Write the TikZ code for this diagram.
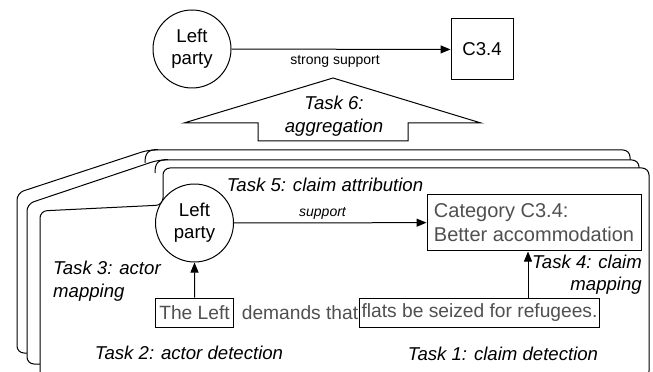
\documentclass[tikz,border=0pt]{standalone}
\usepackage{fontspec}
\setmainfont{Liberation Sans}
\usetikzlibrary{arrows.meta}
\definecolor{textgrey}{HTML}{505050}

\begin{document}
\begin{tikzpicture}[scale=0.3528]
	\tikzstyle{every node}+=[inner sep=0pt]
	\tikzstyle{party}=[circle,draw,line width=1bp,fill=white,minimum size=78bp,align=center,font=\fontsize{18.6bp}{22bp}\selectfont]
	\tikzstyle{task}=[align=center,font=\fontsize{18.6bp}{22.5bp}\selectfont\itshape]
	\tikzstyle{spanbox}=[draw,line width=1bp,minimum height=29bp,text=textgrey,font=\fontsize{19.2bp}{22bp}\selectfont]
	\tikzstyle{rel}=[line width=1bp,-{Triangle[length=10bp,width=8bp]}]
	\tikzstyle{sheet}=[line width=1bp,fill=white,rounded corners=7bp]
	\useasboundingbox (0,0) rectangle (65.3,-37.2);

	% aggregated result
	\node[party] (lpTop) at (19.2,-4.9) {Left\\party};
	\node[draw,line width=1bp,minimum width=62bp,minimum height=61bp,font=\fontsize{18.6bp}{22bp}\selectfont] (cTop) at (48.2,-4.95) {C3.4};
	\draw[rel] (lpTop) -- (cTop);
	\node[font=\fontsize{14bp}{16bp}\selectfont] (strong) at (33.5,-6.15) {strong support};

	% big arrow
	\draw[line width=1bp] (33.3,-7.8) -- (48.1,-12.3) -- (40.8,-12.3) -- (40.8,-14.1) -- (25.8,-14.1) -- (25.8,-12.3) -- (18.4,-12.3) -- cycle;
	\node[task] (agg) at (33.4,-11.6) {Task 6:\\aggregation};

	% stack of documents
	\draw[sheet] (1.7,-35.3) -- (1.7,-19.3) -- (14.8,-15.0) -- (63.0,-15.0) -- (63.0,-35.3) -- cycle;
	\draw[line width=1bp] (15.8,-14.95) .. controls (14.8,-14.95) and (14.5,-15.3) .. (14.5,-16.3);
	\draw[sheet] (2.7,-36.4) -- (2.7,-20.4) -- (15.8,-16.0) -- (63.9,-16.0) -- (63.9,-36.4) -- cycle;
	\draw[line width=1bp] (16.8,-15.95) .. controls (15.8,-15.95) and (15.5,-16.3) .. (15.5,-17.3);
	\draw[sheet] (4.0,-37.8) -- (4.0,-21.1) -- (16.3,-20.5) -- (16.3,-16.8) -- (64.9,-16.8) -- (64.9,-37.8) -- cycle;

	% single document
	\node[party] (lp) at (19.45,-22.3) {Left\\party};
	\node[draw,line width=1bp,minimum width=214bp,minimum height=57bp,align=left,text=textgrey,font=\fontsize{20bp}{24bp}\selectfont] (cat) at (53.4,-22.25) {Category C3.4:\\Better accommodation};
	\draw[rel] (lp) -- (cat);
	\node[font=\fontsize{14bp}{16bp}\selectfont\itshape] (sup) at (32.25,-21.3) {support};
	\node[task] (t5) at (32.5,-18.5) {Task 5: claim attribution};

	\node[spanbox,minimum width=79bp] (tl) at (19.45,-31.25) {The Left};
	\node[text=textgrey,font=\fontsize{19.2bp}{22bp}\selectfont] (dem) at (30.0,-31.25) {demands that};
	\node[spanbox,minimum width=241bp] (fl) at (47.95,-31.25) {flats be seized for refugees.};

	\draw[rel] (tl) -- (lp);
	\coordinate (t4) at (52.8,-28);
	\draw[rel] (t4 |- fl.north) -- (t4 |- cat.south);

	\node[task,align=left,anchor=west] (t3) at (5.3,-28.1) {Task 3: actor\\mapping};
	\node[task,align=right,anchor=east] (t4l) at (64.2,-27.45) {Task 4: claim\\mapping};
	\node[task] (t2) at (18.9,-35.3) {Task 2: actor detection};
	\node[task] (t1) at (50.3,-35.4) {Task 1: claim detection};
\end{tikzpicture}
\end{document}
